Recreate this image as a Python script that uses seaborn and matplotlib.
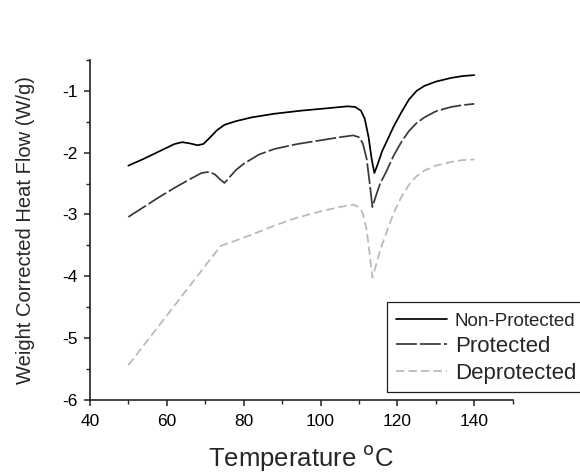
import numpy as np
import pandas as pd
import matplotlib
matplotlib.use("Agg")
import matplotlib.pyplot as plt
from matplotlib.ticker import MultipleLocator
import seaborn as sns

# ---- data ----
np_temp = [50, 54, 58, 62, 64, 66, 68, 69.5, 71, 73, 75, 78, 82, 88, 95, 102, 107, 109,
           110.5, 111.5, 112.5, 113.3, 114, 114.8, 116, 117.5, 119, 121, 123, 125, 127,
           130, 134, 137, 140]
np_flow = [-2.21, -2.10, -1.98, -1.86, -1.83, -1.85, -1.88, -1.86, -1.77, -1.64, -1.55,
           -1.49, -1.43, -1.37, -1.32, -1.28, -1.25, -1.26, -1.32, -1.45, -1.75, -2.10,
           -2.33, -2.20, -1.98, -1.78, -1.58, -1.35, -1.14, -1.00, -0.92, -0.85, -0.79,
           -0.76, -0.745]

p_temp = [50, 54, 58, 62, 66, 69, 71, 72.5, 74, 75, 76, 78, 80, 84, 88, 94, 100, 105,
          108.5, 110, 111, 112, 112.8, 113.5, 114.3, 115.5, 117, 119, 121, 123, 125, 127,
          130, 134, 137, 140]
p_flow = [-3.04, -2.88, -2.72, -2.57, -2.43, -2.33, -2.31, -2.35, -2.44, -2.49, -2.42,
          -2.28, -2.18, -2.03, -1.94, -1.86, -1.80, -1.75, -1.72, -1.75, -1.85, -2.10,
          -2.50, -2.88, -2.72, -2.50, -2.32, -2.05, -1.83, -1.65, -1.52, -1.43, -1.33,
          -1.26, -1.23, -1.21]

d_temp = [50, 74, 78, 82, 88, 94, 100, 105, 108.5, 110, 111, 112, 112.8, 113.5, 114.3,
          115.5, 117, 119, 121, 123, 125, 127, 130, 134, 137, 140]
d_flow = [-5.44, -3.51, -3.42, -3.33, -3.18, -3.05, -2.95, -2.88, -2.84, -2.88, -2.98,
          -3.25, -3.65, -4.02, -3.85, -3.58, -3.32, -2.98, -2.72, -2.52, -2.38, -2.29,
          -2.21, -2.15, -2.12, -2.11]

series_names = ["Non-Protected", "Protected", "Deprotected"]
x_ticks = [40, 60, 80, 100, 120, 140]
y_ticks = [-6, -5, -4, -3, -2, -1]

df = pd.concat([
    pd.DataFrame({"T": np_temp, "Q": np_flow, "S": series_names[0]}),
    pd.DataFrame({"T": p_temp, "Q": p_flow, "S": series_names[1]}),
    pd.DataFrame({"T": d_temp, "Q": d_flow, "S": series_names[2]}),
], ignore_index=True)

sns.set_style("ticks")
plt.rcParams["font.family"] = ["Liberation Sans", "DejaVu Sans"]
plt.rcParams["axes.unicode_minus"] = False

fig = plt.figure(figsize=(5.8, 4.76), dpi=100)
ax = fig.add_axes([0.155, 0.160, 0.729, 0.714])

palette = {"Non-Protected": "#000000", "Protected": "#383838", "Deprotected": "#b8b8b8"}
dashes = {"Non-Protected": "", "Protected": (12, 1.8), "Deprotected": (4.8, 2.4)}
sns.lineplot(data=df, x="T", y="Q", hue="S", style="S", hue_order=series_names,
             style_order=series_names, palette=palette, dashes=dashes, sort=False,
             estimator=None, linewidth=1.25, legend=False, ax=ax)

ax.set_xlim(40, 150)
ax.set_ylim(-6, -0.5)
ax.set_xticks(x_ticks)
ax.set_yticks(y_ticks)
ax.xaxis.set_minor_locator(MultipleLocator(10))
ax.yaxis.set_minor_locator(MultipleLocator(0.5))
for s in ["top", "right"]:
    ax.spines[s].set_visible(False)
for s in ["left", "bottom"]:
    ax.spines[s].set_linewidth(1.2)
    ax.spines[s].set_color("#222222")
ax.tick_params(which="major", direction="out", length=4.5, width=1.1, labelsize=12.5,
               colors="#222222", labelcolor="black")
ax.tick_params(axis="x", which="major", pad=6)
ax.tick_params(axis="y", which="major", pad=4)
ax.tick_params(which="minor", direction="out", length=3, width=1.0, colors="#222222")

ax.set_xlabel("Temperature $^{\\mathrm{o}}$C", fontsize=18.5, labelpad=10)
ax.set_ylabel("Weight Corrected Heat Flow (W/g)", fontsize=14.5, labelpad=20)

leg = fig.legend(ax.lines[:3], series_names, loc="upper left",
                 bbox_to_anchor=(387 / 580, 1 - 302 / 476), bbox_transform=fig.transFigure,
                 fontsize=16, frameon=True, fancybox=False, framealpha=1,
                 edgecolor="#222222", handlelength=2.3, handletextpad=0.35,
                 borderpad=0.4, labelspacing=0.25, borderaxespad=0)
leg.get_frame().set_linewidth(0.9)
leg.get_texts()[0].set_fontsize(13.5)

fig.savefig("out.png", dpi=100)
